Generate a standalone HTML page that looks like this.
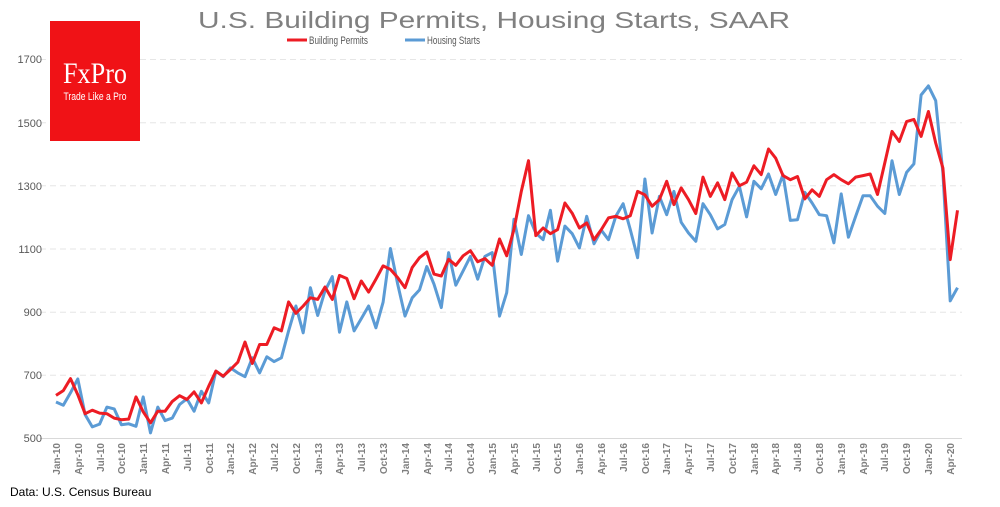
<!DOCTYPE html>
<html><head><meta charset="utf-8"><style>
html,body{margin:0;padding:0;background:#fff;width:1000px;height:507px;overflow:hidden}
svg{display:block}
text{font-family:"Liberation Sans",sans-serif}
</style></head><body>
<svg id="c" width="1000" height="507" viewBox="0 0 1000 507" xmlns="http://www.w3.org/2000/svg">
<g stroke="#e6e6e6" stroke-dasharray="6,4" stroke-width="1">
<line x1="40" y1="59.5" x2="962" y2="59.5"/><line x1="40" y1="122.7" x2="962" y2="122.7"/>
<line x1="40" y1="185.8" x2="962" y2="185.8"/><line x1="40" y1="249" x2="962" y2="249"/>
<line x1="40" y1="312.2" x2="962" y2="312.2"/><line x1="40" y1="375.3" x2="962" y2="375.3"/>
</g>
<line x1="40" y1="438.5" x2="962" y2="438.5" stroke="#d9d9d9" stroke-width="1"/>
<rect x="50" y="21" width="90" height="120" fill="#f01216"/>
<text x="95" y="83" fill="#fff" font-size="30" text-anchor="middle" textLength="64" lengthAdjust="spacingAndGlyphs" style="font-family:'Liberation Serif',serif">FxPro</text>
<text x="95" y="100" fill="#fff" font-size="11" text-anchor="middle" textLength="63" lengthAdjust="spacingAndGlyphs">Trade Like a Pro</text>
<text x="198" y="28" fill="#808080" font-size="23" textLength="592" lengthAdjust="spacingAndGlyphs">U.S. Building Permits, Housing Starts, SAAR</text>
<line x1="287" y1="40" x2="307" y2="40" stroke="#ed1c24" stroke-width="3"/>
<text x="309" y="44" fill="#595959" font-size="11" textLength="59" lengthAdjust="spacingAndGlyphs">Building Permits</text>
<line x1="405" y1="40" x2="425" y2="40" stroke="#5b9bd5" stroke-width="3"/>
<text x="427" y="44" fill="#595959" font-size="11" textLength="53" lengthAdjust="spacingAndGlyphs">Housing Starts</text>
<g fill="#595959" font-size="11" text-anchor="end">
<text x="42" y="63">1700</text><text x="42" y="127">1500</text><text x="42" y="190">1300</text>
<text x="42" y="253">1100</text><text x="42" y="316">900</text><text x="42" y="379">700</text><text x="42" y="442">500</text>
</g>
<g id="xl" fill="#7f7f7f" font-size="10" font-weight="bold" text-anchor="end">
<text transform="translate(60,443) rotate(-90)">Jan-10</text>
<text transform="translate(82,443) rotate(-90)">Apr-10</text>
<text transform="translate(104,443) rotate(-90)">Jul-10</text>
<text transform="translate(125,443) rotate(-90)">Oct-10</text>
<text transform="translate(147,443) rotate(-90)">Jan-11</text>
<text transform="translate(169,443) rotate(-90)">Apr-11</text>
<text transform="translate(191,443) rotate(-90)">Jul-11</text>
<text transform="translate(213,443) rotate(-90)">Oct-11</text>
<text transform="translate(234,443) rotate(-90)">Jan-12</text>
<text transform="translate(256,443) rotate(-90)">Apr-12</text>
<text transform="translate(278,443) rotate(-90)">Jul-12</text>
<text transform="translate(300,443) rotate(-90)">Oct-12</text>
<text transform="translate(322,443) rotate(-90)">Jan-13</text>
<text transform="translate(343,443) rotate(-90)">Apr-13</text>
<text transform="translate(365,443) rotate(-90)">Jul-13</text>
<text transform="translate(387,443) rotate(-90)">Oct-13</text>
<text transform="translate(409,443) rotate(-90)">Jan-14</text>
<text transform="translate(431,443) rotate(-90)">Apr-14</text>
<text transform="translate(452,443) rotate(-90)">Jul-14</text>
<text transform="translate(474,443) rotate(-90)">Oct-14</text>
<text transform="translate(496,443) rotate(-90)">Jan-15</text>
<text transform="translate(518,443) rotate(-90)">Apr-15</text>
<text transform="translate(540,443) rotate(-90)">Jul-15</text>
<text transform="translate(561,443) rotate(-90)">Oct-15</text>
<text transform="translate(583,443) rotate(-90)">Jan-16</text>
<text transform="translate(605,443) rotate(-90)">Apr-16</text>
<text transform="translate(627,443) rotate(-90)">Jul-16</text>
<text transform="translate(649,443) rotate(-90)">Oct-16</text>
<text transform="translate(670,443) rotate(-90)">Jan-17</text>
<text transform="translate(692,443) rotate(-90)">Apr-17</text>
<text transform="translate(714,443) rotate(-90)">Jul-17</text>
<text transform="translate(736,443) rotate(-90)">Oct-17</text>
<text transform="translate(758,443) rotate(-90)">Jan-18</text>
<text transform="translate(779,443) rotate(-90)">Apr-18</text>
<text transform="translate(801,443) rotate(-90)">Jul-18</text>
<text transform="translate(823,443) rotate(-90)">Oct-18</text>
<text transform="translate(845,443) rotate(-90)">Jan-19</text>
<text transform="translate(867,443) rotate(-90)">Apr-19</text>
<text transform="translate(888,443) rotate(-90)">Jul-19</text>
<text transform="translate(910,443) rotate(-90)">Oct-19</text>
<text transform="translate(932,443) rotate(-90)">Jan-20</text>
<text transform="translate(954,443) rotate(-90)">Apr-20</text>
</g>
<polyline id="hs" fill="none" stroke="#5b9bd5" stroke-width="3" stroke-linejoin="round"/>
<polyline id="bp" fill="none" stroke="#ed1c24" stroke-width="3" stroke-linejoin="round"/>
<text x="10" y="496" fill="#000" font-size="12">Data: U.S. Census Bureau</text>
</svg>
<script>
var R=[635,650,688,637,577,588,579,577,563,558,560,630,583,548,585,585,616,634,622,646,611,664,712,696,717,740,804,736,796,796,849,839,931,895,918,944,939,978,939,1015,1005,941,997,962,1003,1045,1034,1008,976,1040,1071,1089,1019,1013,1066,1047,1077,1093,1058,1068,1047,1130,1077,1161,
1281,1378,1141,1165,1147,1160,1244,1212,1165,1181,1128,1160,1197,1202,1194,1204,1281,1270,1234,1255,1313,1239,1292,1255,1211,1326,1265,1308,1255,1339,1299,1310,1362,1334,1415,1386,1331,1318,1328,1257,1286,1265,1318,1334,1318,1305,1326,1331,1336,1271,1371,1471,1439,1502,1509,1455,1534,1434,1355,1065,1221];
var B=[614,604,643,687,574,535,544,598,592,542,545,537,630,516,598,555,563,606,624,585,648,611,712,694,722,706,694,754,706,757,742,754,839,918,833,976,888,966,1011,835,931,839,878,918,849,930,1100,987,886,944,969,1043,987,913,1087,984,1029,1075,1003,1075,1087,886,960,1193,
1081,1204,1149,1128,1221,1060,1171,1147,1102,1202,1115,1158,1128,1202,1242,1160,1071,1320,1149,1265,1207,1281,1183,1149,1123,1242,1207,1162,1176,1255,1297,1200,1313,1289,1336,1271,1334,1189,1191,1278,1244,1207,1204,1118,1273,1136,1202,1267,1267,1234,1211,1378,1271,1341,1368,1586,1615,1568,1339,934,976];
function pts(a){return a.map(function(v,i){return (56+i*7.27).toFixed(1)+","+(438-(v-500)*0.3158).toFixed(1)}).join(" ")}
document.getElementById("bp").setAttribute("points",pts(R));
document.getElementById("hs").setAttribute("points",pts(B));
</script>
</body></html>
